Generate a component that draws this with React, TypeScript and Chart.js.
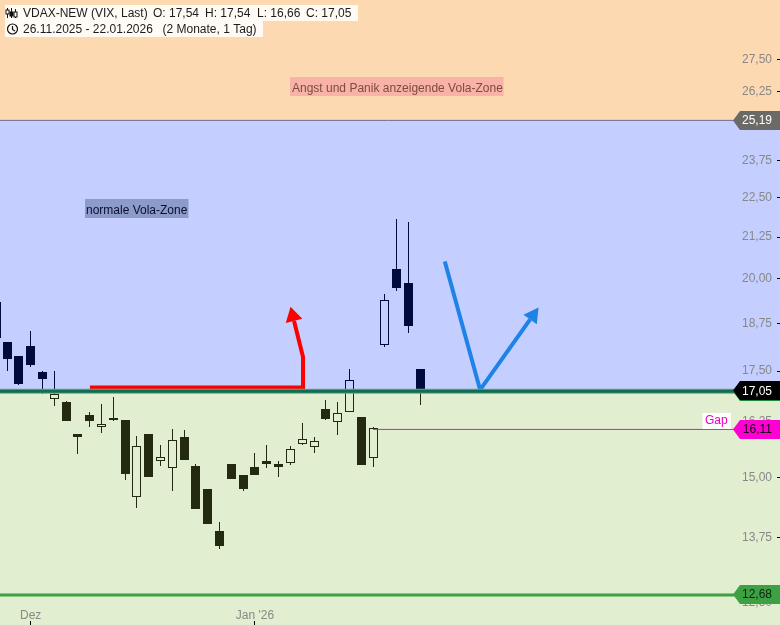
import React, { useEffect, useRef } from "react";
import { Chart, registerables } from "chart.js";

Chart.register(...registerables);

// ---- data ----
const opens = [19.34, 18.25, 17.89, 18.15, 17.48, 16.81, 16.74, 15.98, 16.42, 16.14, 16.35, 16.30, 14.58, 15.98, 15.36, 15.21, 15.91, 15.25, 14.75, 13.88, 15.30, 15.05, 15.23, 15.36, 15.30, 15.32, 15.75, 15.68, 16.57, 16.26, 16.49, 16.37, 15.43, 18.18, 20.29, 19.89, 17.54];
const highs = [19.34, 18.25, 17.89, 18.55, 17.50, 17.50, 16.76, 15.98, 16.49, 16.69, 16.86, 16.30, 15.93, 15.98, 15.72, 16.09, 16.07, 15.30, 14.75, 14.06, 15.30, 15.05, 15.54, 15.72, 15.36, 15.70, 16.23, 15.91, 16.78, 16.74, 17.55, 16.37, 16.14, 19.57, 21.82, 21.72, 17.54];
const lows = [18.36, 17.50, 17.15, 17.60, 16.93, 16.64, 16.28, 15.52, 16.14, 16.00, 16.28, 14.95, 14.35, 15.01, 15.25, 14.71, 15.39, 14.33, 14.02, 13.52, 14.97, 14.71, 15.05, 15.21, 15.01, 15.27, 15.72, 15.54, 16.30, 15.95, 16.49, 15.27, 15.23, 18.12, 19.66, 18.49, 16.66];
const closes = [18.36, 17.81, 17.18, 17.66, 17.30, 16.93, 16.28, 15.91, 16.28, 16.21, 16.30, 15.08, 15.70, 15.01, 15.45, 15.84, 15.39, 14.33, 14.02, 13.58, 14.97, 14.75, 15.05, 15.30, 15.23, 15.63, 15.86, 15.82, 16.33, 16.47, 17.28, 15.27, 16.11, 19.40, 19.74, 18.68, 17.05];

const monthTickIndex = [3, 22];
const monthTickLabel = ["Dez", "Jan '26"];
const yTickValues = [27.5, 26.25, 25, 23.75, 22.5, 21.25, 20, 18.75, 17.5, 16.25, 15, 13.75, 12.5];

// the value printed on each price tag, and the height its line sits at in the picture
const panicLevel = 25.19;
const lastClose = 17.05;
const gapLevel = 16.11;
const lowLevel = 12.68;
const panicDrawn = 25.17;
const closeDrawn = 16.995;
const gapDrawn = 16.08;
const lowDrawn = 12.65;

const redArrowX = [8.02, 26.07, 26.07, 25.31];
const redArrowY = [17.09, 17.09, 17.86, 18.82];
const blueArrowX = [38.08, 41.07, 45.31];
const blueArrowY = [20.51, 17.03, 18.86];

const X_MIN = 0.4007;
const X_MAX = 66.2207;
const Y_MIN = 12.18;
const Y_MAX = 29.97;

const FONT = '12px "Liberation Sans"';
const NAVY = "#000a3c";
const OLIVE = "#232a10";
const fmt = (v: number) => v.toFixed(2).replace(".", ",");

const idx = opens.map((_, i) => i);
const bodies = idx.map((i) => ({ x: i, y: [opens[i], closes[i]] }));
const filledBodies = bodies.filter((b) => closes[b.x] < opens[b.x]);
const hollowBodies = bodies.filter((b) => closes[b.x] >= opens[b.x]);
const upperWicks = idx
  .filter((i) => highs[i] > Math.max(opens[i], closes[i]))
  .map((i) => ({ x: i, y: [Math.max(opens[i], closes[i]), highs[i]] }));
const lowerWicks = idx
  .filter((i) => lows[i] < Math.min(opens[i], closes[i]))
  .map((i) => ({ x: i, y: [lows[i], Math.min(opens[i], closes[i])] }));

function ink(c: any) {
  const chart = c.chart;
  const y = chart.scales && chart.scales.y;
  if (!y) return OLIVE;
  const p = y.getPixelForValue(closeDrawn) / chart.height;
  if (!isFinite(p)) return OLIVE;
  const g = chart.ctx.createLinearGradient(0, 0, 0, chart.height);
  g.addColorStop(0, NAVY);
  g.addColorStop(p, NAVY);
  g.addColorStop(p, OLIVE);
  g.addColorStop(1, OLIVE);
  return g;
}

function hline(v: number, color: string, width: number, order: number, from = X_MIN) {
  return {
    type: "line",
    data: [{ x: from, y: v }, { x: X_MAX, y: v }],
    borderColor: color,
    borderWidth: width,
    pointRadius: 0,
    order,
  };
}

function arrowLine(xs: number[], ys: number[], color: string, width: number, join: string) {
  return {
    type: "line",
    data: xs.map((x, i) => ({ x, y: ys[i] })),
    borderColor: color,
    borderWidth: width,
    pointRadius: 0,
    tension: 0,
    borderJoinStyle: join,
    order: 2,
  };
}

function arrowHead(chart: any, xs: number[], ys: number[], color: string, len: number, half: number) {
  const { ctx, scales } = chart;
  const n = xs.length;
  const bx = scales.x.getPixelForValue(xs[n - 1]);
  const by = scales.y.getPixelForValue(ys[n - 1]);
  const ax = scales.x.getPixelForValue(xs[n - 2]);
  const ay = scales.y.getPixelForValue(ys[n - 2]);
  const d = Math.hypot(bx - ax, by - ay);
  const ux = (bx - ax) / d;
  const uy = (by - ay) / d;
  ctx.fillStyle = color;
  ctx.beginPath();
  ctx.moveTo(bx + ux * len, by + uy * len);
  ctx.lineTo(bx - uy * half, by + ux * half);
  ctx.lineTo(bx + uy * half, by - ux * half);
  ctx.closePath();
  ctx.fill();
}

function priceTag(chart: any, drawn: number, label: number, bg: string, fg: string, edge?: string) {
  const { ctx, scales } = chart;
  const c = Math.floor(scales.y.getPixelForValue(drawn)) + 0.5;
  const shape = (dy: number, color: string) => {
    ctx.fillStyle = color;
    ctx.beginPath();
    ctx.moveTo(733, c + dy);
    ctx.lineTo(740, c - 9.5 + dy);
    ctx.lineTo(780, c - 9.5 + dy);
    ctx.lineTo(780, c + 9.5 + dy);
    ctx.lineTo(740, c + 9.5 + dy);
    ctx.closePath();
    ctx.fill();
  };
  if (edge) {
    shape(0, edge);
    shape(-1, bg);
  } else {
    shape(0, bg);
  }
  ctx.fillStyle = fg;
  ctx.font = FONT;
  ctx.textAlign = "right";
  ctx.textBaseline = "alphabetic";
  ctx.fillText(fmt(label), 772, c + 3.5);
}

const zones = {
  id: "zones",
  beforeDraw(chart: any) {
    const { ctx, scales, width, height } = chart;
    const a = scales.y.getPixelForValue(panicDrawn);
    const b = scales.y.getPixelForValue(closeDrawn);
    ctx.save();
    ctx.fillStyle = "#fcd9b1";
    ctx.fillRect(0, 0, width, a);
    ctx.fillStyle = "#c4ceff";
    ctx.fillRect(0, a, width, b - a);
    ctx.fillStyle = "#e1efd0";
    ctx.fillRect(0, b, width, height - b);
    ctx.restore();
  },
};

const snap = {
  id: "snap",
  afterDatasetsUpdate(chart: any) {
    chart.data.datasets.forEach((ds: any, i: number) => {
      if (ds.type === "line") return;
      chart.getDatasetMeta(i).data.forEach((el: any) => {
        let x = Math.floor(el.x) + 0.5;
        if (x < 0) x += 1;
        el.x = x;
        el.y = Math.round(el.y);
        el.base = Math.round(el.base);
      });
    });
  },
};

const heads = {
  id: "heads",
  afterDatasetsDraw(chart: any) {
    chart.ctx.save();
    arrowHead(chart, redArrowX, redArrowY, "#ff0000", 14.5, 8.5);
    arrowHead(chart, blueArrowX, blueArrowY, "#1e83e6", 14.5, 8.2);
    chart.ctx.restore();
  },
};

const overlay = {
  id: "overlay",
  afterDraw(chart: any) {
    const { ctx } = chart;
    ctx.save();
    priceTag(chart, panicDrawn, panicLevel, "#6b6a66", "#ffffff");
    priceTag(chart, closeDrawn, lastClose, "#000000", "#ffffff", "#1f8a3c");
    priceTag(chart, gapDrawn, gapLevel, "#ff00d2", "#1a0016");
    priceTag(chart, lowDrawn, lowLevel, "#3da043", "#10240f");

    ctx.font = FONT;
    ctx.textAlign = "left";
    ctx.textBaseline = "alphabetic";

    // header
    ctx.fillStyle = "rgba(255,255,255,0.85)";
    ctx.fillRect(5, 5, 353, 16);
    ctx.fillRect(5, 21, 258, 16);
    ctx.fillStyle = "#1c1c1c";
    ctx.fillText("VDAX-NEW (VIX, Last)", 23, 17);
    ctx.fillText("O: 17,54", 153, 17);
    ctx.fillText("H: 17,54", 205, 17);
    ctx.fillText("L: 16,66", 257, 17);
    ctx.fillText("C: 17,05", 306, 17);
    ctx.fillText("26.11.2025 - 22.01.2026", 23, 33);
    ctx.fillText("(2 Monate, 1 Tag)", 162.5, 33);

    // header icons
    ctx.strokeStyle = "#111111";
    ctx.lineWidth = 1;
    [[7.5, 8, 18, 10, 14], [11.5, 8, 18, 12, 16], [15.5, 9, 18, 12, 17]].forEach(([x, t, b, bt, bb]) => {
      ctx.beginPath();
      ctx.moveTo(x, t);
      ctx.lineTo(x, b);
      ctx.stroke();
      ctx.fillStyle = x === 11.5 ? "#111111" : "#ffffff";
      ctx.fillRect(x - 1.5, bt, 3, bb - bt);
      ctx.strokeRect(x - 1.5, bt, 3, bb - bt);
    });
    ctx.lineWidth = 1.2;
    ctx.beginPath();
    ctx.arc(12.5, 29, 5, 0, Math.PI * 2);
    ctx.moveTo(12.5, 26);
    ctx.lineTo(12.5, 29.5);
    ctx.lineTo(15, 31);
    ctx.stroke();

    // zone notes
    ctx.fillStyle = "#f9b2a8";
    ctx.fillRect(290, 77, 213.5, 19);
    ctx.fillStyle = "#7b4c40";
    ctx.fillText("Angst und Panik anzeigende Vola-Zone", 292, 92);
    ctx.fillStyle = "#8d9bcb";
    ctx.fillRect(85, 199, 103.5, 19);
    ctx.fillStyle = "#0a0f2e";
    ctx.fillText("normale Vola-Zone", 86, 214);

    // gap note
    ctx.fillStyle = "#ffffff";
    ctx.fillRect(702.5, 413, 28.5, 16);
    ctx.fillStyle = "#f000c0";
    ctx.fillText("Gap", 705, 424);
    ctx.restore();
  },
};

const noPadding = (s: any) => {
  s.paddingTop = 0;
  s.paddingBottom = 0;
  s.paddingLeft = 0;
  s.paddingRight = 0;
};

export default function App() {
  const ref = useRef<HTMLCanvasElement>(null);
  useEffect(() => {
    const wickBase = { barThickness: 1, grouped: false, backgroundColor: ink, inflateAmount: 0, order: 6 };
    const chart = new Chart(ref.current as any, {
      type: "bar",
      data: {
        datasets: [
          { ...wickBase, data: upperWicks },
          { ...wickBase, data: lowerWicks },
          { barThickness: 9, grouped: false, backgroundColor: ink, inflateAmount: 0, order: 5, data: filledBodies },
          {
            barThickness: 9,
            grouped: false,
            backgroundColor: "rgba(0,0,0,0)",
            borderColor: ink,
            borderWidth: 1,
            borderSkipped: false,
            inflateAmount: 0,
            order: 5,
            data: hollowBodies,
          },
          hline(gapDrawn, "#ff00cc", 1, 3, 32),
          hline(panicDrawn, "#6d6d8c", 1, 3),
          hline(lowDrawn, "#3da043", 3, 3),
          arrowLine(redArrowX, redArrowY, "#ff0000", 4, "miter"),
          arrowLine(blueArrowX, blueArrowY, "#1e83e6", 4, "bevel"),
          hline(closeDrawn, "#6fa58e", 5, 1),
          hline(closeDrawn, "#0d6e50", 3, 0),
        ] as any,
      },
      options: {
        responsive: false,
        animation: false,
        events: [],
        layout: { padding: 0 },
        plugins: { legend: { display: false }, tooltip: { enabled: false } },
        scales: {
          x: {
            type: "linear",
            min: X_MIN,
            max: X_MAX,
            offset: false,
            afterFit: (s: any) => {
              s.height = 4;
              noPadding(s);
            },
            afterBuildTicks: (s: any) => {
              s.ticks = monthTickIndex.map((value) => ({ value }));
            },
            grid: { offset: false, drawOnChartArea: false, tickLength: 4, tickColor: "#000000" },
            border: { display: false },
            ticks: {
              mirror: true,
              autoSkip: false,
              maxRotation: 0,
              padding: -2,
              color: "#888888",
              font: { family: "Liberation Sans", size: 12 },
              callback: (v: any) => monthTickLabel[monthTickIndex.indexOf(Number(v))],
            },
          },
          y: {
            type: "logarithmic",
            position: "right",
            min: Y_MIN,
            max: Y_MAX,
            afterFit: (s: any) => {
              s.width = 3;
              noPadding(s);
            },
            afterBuildTicks: (s: any) => {
              s.ticks = yTickValues.map((value) => ({ value }));
            },
            grid: { drawOnChartArea: false, tickLength: 3, tickColor: "#000000" },
            border: { display: false },
            ticks: {
              mirror: true,
              autoSkip: false,
              padding: -5,
              color: "#888888",
              font: { family: "Liberation Sans", size: 12 },
              callback: (v: any) => fmt(Number(v)),
            },
          },
        },
      } as any,
      plugins: [zones, snap, heads, overlay],
    });
    return () => chart.destroy();
  }, []);
  return (
    <div style={{ position: "absolute", left: 0, top: 0, width: 780, height: 625, overflow: "hidden" }}>
      <canvas ref={ref} width={780} height={625} style={{ display: "block" }} />
    </div>
  );
}
